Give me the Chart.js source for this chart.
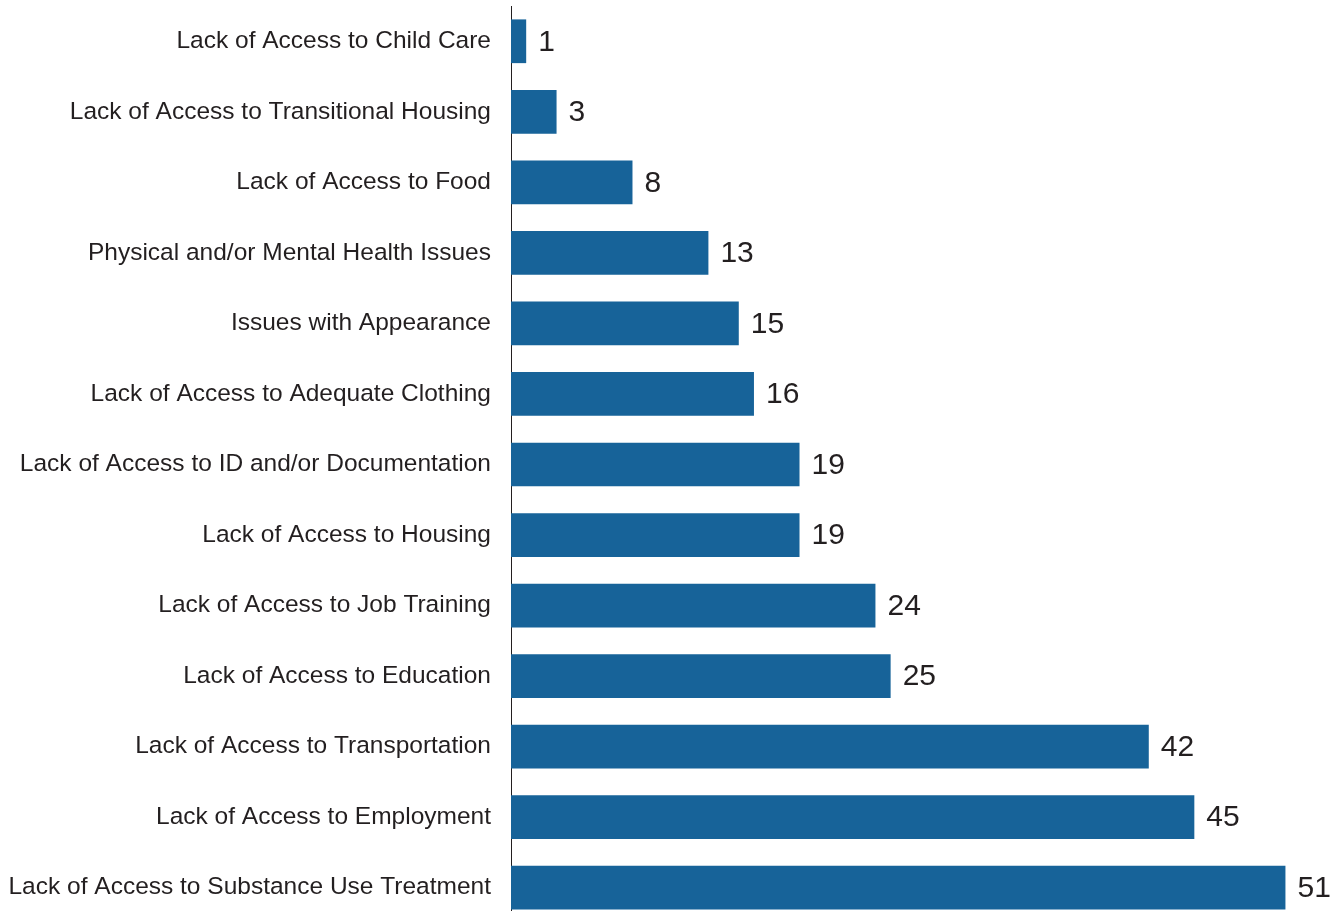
<!DOCTYPE html>
<html>
<head>
<meta charset="utf-8">
<script src="https://cdn.jsdelivr.net/npm/chart.js@4/dist/chart.umd.min.js"></script>
<style>
  html, body { margin: 0; padding: 0; background: #fff; overflow: hidden; }
  #wrap { position: relative; width: 1342px; height: 923px; }
</style>
</head>
<body>
<div id="wrap"><canvas id="chart"></canvas></div>
<script>
const categories = [
  'Lack of Access to Child Care',
  'Lack of Access to Transitional Housing',
  'Lack of Access to Food',
  'Physical and/or Mental Health Issues',
  'Issues with Appearance',
  'Lack of Access to Adequate Clothing',
  'Lack of Access to ID and/or Documentation',
  'Lack of Access to Housing',
  'Lack of Access to Job Training',
  'Lack of Access to Education',
  'Lack of Access to Transportation',
  'Lack of Access to Employment',
  'Lack of Access to Substance Use Treatment'
];
const counts = [1, 3, 8, 13, 15, 16, 19, 19, 24, 25, 42, 45, 51];

const BAR_COLOR = '#176399';
const TEXT_COLOR = '#231f20';
const FONT_FAMILY = '"Liberation Sans", Arial, sans-serif';

// value labels drawn just past the end of each bar
const barValueLabels = {
  id: 'barValueLabels',
  afterDatasetsDraw(chart) {
    const { ctx } = chart;
    const meta = chart.getDatasetMeta(0);
    ctx.save();
    ctx.font = `30px ${FONT_FAMILY}`;
    ctx.fillStyle = TEXT_COLOR;
    ctx.textAlign = 'left';
    ctx.textBaseline = 'middle';
    meta.data.forEach((bar, i) => {
      ctx.fillText(String(counts[i]), bar.x + 12, bar.y + 1);
    });
    ctx.restore();
  }
};

new Chart(document.getElementById('chart'), {
  type: 'bar',
  data: {
    labels: categories,
    datasets: [{
      data: counts,
      backgroundColor: BAR_COLOR,
      barPercentage: 0.62,
      categoryPercentage: 1,
    }],
  },
  options: {
    indexAxis: 'y',
    responsive: true,
    maintainAspectRatio: false,
    animation: false,
    layout: { padding: { top: 6, right: 11, bottom: 0, left: 0 } },
    plugins: {
      legend: { display: false },
      tooltip: { enabled: false },
    },
    scales: {
      x: {
        display: false,
        min: 0,
        max: 54,
      },
      y: {
        grid: { display: false, drawTicks: false },
        border: { display: true, color: TEXT_COLOR, width: 1 },
        ticks: {
          color: TEXT_COLOR,
          padding: 20,
          font: { size: 24.5, family: FONT_FAMILY },
        },
        afterFit: (scale) => {
          scale.width = 511;
          scale.paddingTop = 0;
          scale.paddingBottom = 0;
        },
      },
    },
  },
  plugins: [barValueLabels],
});
</script>
</body>
</html>
